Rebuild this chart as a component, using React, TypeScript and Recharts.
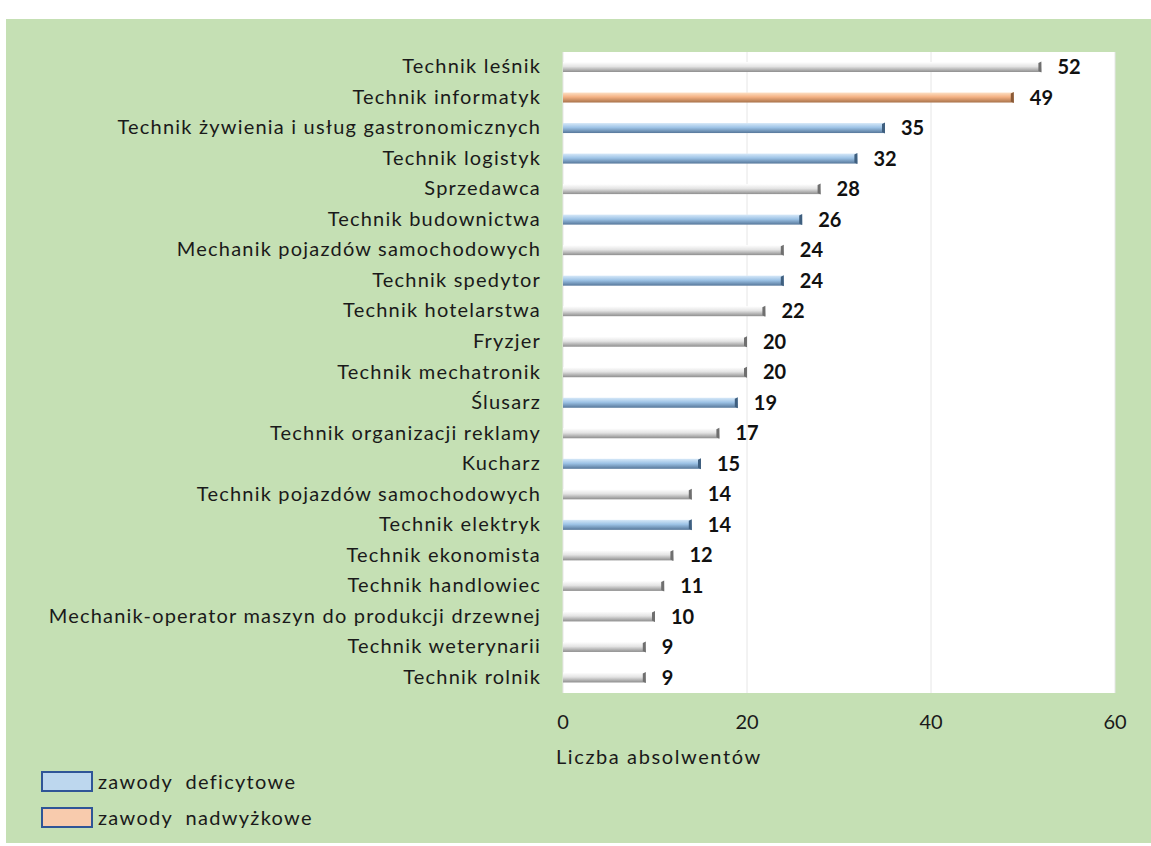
import React from 'react';
import { BarChart, Bar, XAxis, YAxis, CartesianGrid, LabelList } from 'recharts';

const categories = [
  'Technik leśnik',
  'Technik informatyk',
  'Technik żywienia i usług gastronomicznych',
  'Technik logistyk',
  'Sprzedawca',
  'Technik budownictwa',
  'Mechanik pojazdów samochodowych',
  'Technik spedytor',
  'Technik hotelarstwa',
  'Fryzjer',
  'Technik mechatronik',
  'Ślusarz',
  'Technik organizacji reklamy ',
  'Kucharz',
  'Technik pojazdów samochodowych',
  'Technik elektryk',
  'Technik ekonomista',
  'Technik handlowiec',
  'Mechanik-operator maszyn do produkcji drzewnej',
  'Technik weterynarii',
  'Technik rolnik',
];

const graduates = [52, 49, 35, 32, 28, 26, 24, 24, 22, 20, 20, 19, 17, 15, 14, 14, 12, 11, 10, 9, 9];

// n = neutral, d = zawody deficytowe, s = zawody nadwyżkowe
const groups = ['n', 's', 'd', 'd', 'n', 'd', 'n', 'd', 'n', 'n', 'n', 'd', 'n', 'd', 'n', 'd', 'n', 'n', 'n', 'n', 'n'];

const xTicks = [0, 20, 40, 60];

const legendItems = [
  { label: 'zawody  deficytowe', fill: '#bdd7ee' },
  { label: 'zawody  nadwyżkowe', fill: '#f8cbad' },
];

const data = categories.map((name, i) => ({ name, value: graduates[i], group: groups[i] }));

const FONT = 'Lato, "Open Sans", sans-serif';

const capColor: Record<string, string> = { n: '#6f6f6f', d: '#3f5f7f', s: '#8a5a36' };

const CylinderBar = (props: any) => {
  const { x, y, width, height, payload } = props;
  const g = payload.group;
  const end = x + width;
  return (
    <g>
      <rect x={x} y={y} width={width} height={height} fill={`url(#cyl-${g})`} />
      <path
        d={`M${end - 3},${y + 1} L${end},${y - 0.5} L${end},${y + height + 0.5} L${end - 3},${y + height - 1} Z`}
        fill={capColor[g]}
      />
    </g>
  );
};

const CategoryTick = (props: any) => {
  const { x, y, payload } = props;
  return (
    <text x={x - 14} y={y} dy={6} textAnchor="end" fill="#1a1a1a" fontSize={20} fontFamily={FONT} letterSpacing={1.2}>
      {payload.value}
    </text>
  );
};

export default function App() {
  return (
    <div style={{ position: 'absolute', left: 0, top: 0, width: 1151, height: 846, background: '#fff' }}>
      <div style={{ position: 'absolute', left: 6, top: 19, width: 1145, height: 824, background: '#c5e0b4' }}>
        <BarChart
          width={1145}
          height={824}
          data={data}
          layout="vertical"
          margin={{ top: 33, right: 36, bottom: 120, left: 0 }}
          barSize={10}
        >
          <defs>
            <linearGradient id="cyl-n" x1="0" y1="0" x2="0" y2="1">
              <stop offset="0%" stopColor="#ffffff" />
              <stop offset="45%" stopColor="#e4e4e4" />
              <stop offset="100%" stopColor="#8e8e8e" />
            </linearGradient>
            <linearGradient id="cyl-d" x1="0" y1="0" x2="0" y2="1">
              <stop offset="0%" stopColor="#d6e8f8" />
              <stop offset="45%" stopColor="#9dc3e6" />
              <stop offset="100%" stopColor="#56779a" />
            </linearGradient>
            <linearGradient id="cyl-s" x1="0" y1="0" x2="0" y2="1">
              <stop offset="0%" stopColor="#fde0c4" />
              <stop offset="45%" stopColor="#f4b183" />
              <stop offset="100%" stopColor="#a8724a" />
            </linearGradient>
          </defs>
          <CartesianGrid horizontal={false} stroke="#e6e6e6" fill="#ffffff" />
          <XAxis
            type="number"
            domain={[0, 60]}
            ticks={xTicks}
            axisLine={false}
            tickLine={false}
            tickMargin={16}
            height={30}
            tick={{ fill: '#1a1a1a', fontSize: 20, fontFamily: FONT }}
          />
          <YAxis
            type="category"
            dataKey="name"
            width={557}
            axisLine={false}
            tickLine={false}
            interval={0}
            tick={<CategoryTick />}
          />
          <Bar dataKey="value" shape={<CylinderBar />} isAnimationActive={false}>
            <LabelList
              dataKey="value"
              position="right"
              offset={16}
              fill="#111"
              fontSize={20}
              fontWeight="bold"
              fontFamily={FONT}
            />
          </Bar>
        </BarChart>
        <div
          style={{
            position: 'absolute',
            left: 550,
            top: 725,
            fontFamily: FONT,
            fontSize: 20,
            letterSpacing: 1.6,
            color: '#1a1a1a',
          }}
        >
          Liczba absolwentów
        </div>
        <div style={{ position: 'absolute', left: 35, top: 744, fontFamily: FONT, fontSize: 20, color: '#1a1a1a' }}>
          {legendItems.map((it) => (
            <div key={it.label} style={{ display: 'flex', alignItems: 'center', height: 36, letterSpacing: 1.3 }}>
              <span
                style={{
                  display: 'inline-block',
                  width: 48,
                  height: 17,
                  background: it.fill,
                  border: '2px solid #2f5597',
                  marginRight: 5,
                }}
              />
              <span style={{ whiteSpace: 'pre' }}>{it.label}</span>
            </div>
          ))}
        </div>
      </div>
    </div>
  );
}
